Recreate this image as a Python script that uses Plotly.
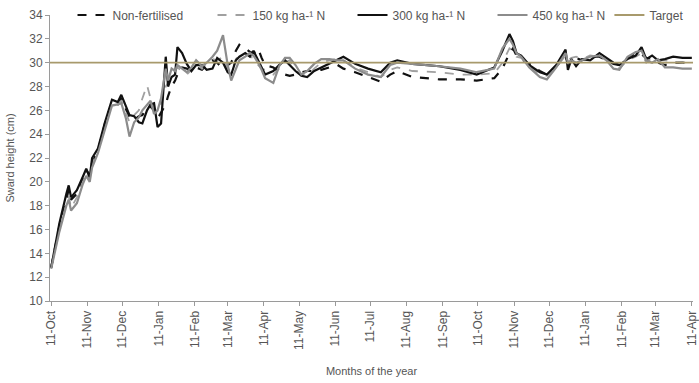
import plotly.graph_objects as go

dates = [
    "2010-10-11", "2010-10-18", "2010-10-24", "2010-10-26", "2010-10-28", "2010-11-02",
    "2010-11-07", "2010-11-10", "2010-11-13", "2010-11-15", "2010-11-20", "2010-11-26",
    "2010-12-02", "2010-12-07", "2010-12-10", "2010-12-14", "2010-12-17", "2010-12-21",
    "2010-12-25", "2010-12-28", "2011-01-01", "2011-01-04", "2011-01-07", "2011-01-10",
    "2011-01-13", "2011-01-17", "2011-01-19", "2011-01-22", "2011-01-25", "2011-01-27",
    "2011-01-31", "2011-02-04", "2011-02-08", "2011-02-12", "2011-02-17", "2011-02-21",
    "2011-02-26", "2011-03-02", "2011-03-07", "2011-03-11", "2011-03-14", "2011-03-18",
    "2011-03-21", "2011-03-26", "2011-03-30", "2011-04-02", "2011-04-06", "2011-04-09",
    "2011-04-12", "2011-04-19", "2011-04-24", "2011-04-29", "2011-05-03", "2011-05-08",
    "2011-05-13", "2011-05-18", "2011-05-24", "2011-05-30", "2011-06-06", "2011-06-13",
    "2011-06-18", "2011-06-28", "2011-07-09", "2011-07-20", "2011-07-28", "2011-08-03",
    "2011-08-16", "2011-09-08", "2011-09-26", "2011-10-10", "2011-10-25", "2011-11-01",
    "2011-11-07", "2011-11-10", "2011-11-13", "2011-11-17", "2011-11-24", "2011-12-03",
    "2011-12-09", "2011-12-17", "2011-12-25", "2011-12-27", "2011-12-30", "2012-01-03",
    "2012-01-08", "2012-01-15", "2012-01-23", "2012-01-29", "2012-02-04", "2012-02-09",
    "2012-02-16", "2012-02-23", "2012-02-28", "2012-03-03", "2012-03-08", "2012-03-13",
    "2012-03-19", "2012-03-26", "2012-04-03", "2012-04-11",
]

non_fert = [
    12.8, 16.3, 18.5, 19.4, 18.5, 19.0, 20.3, 21.0, 20.5, 21.6, 22.6, 24.9,
    26.7, 26.5, 27.0, 26.0, 25.4, 25.2, 25.5, 25.6, 26.2, 26.3, 26.0, 25.3,
    25.8, 26.5, 27.2, 28.0, 28.5, 29.0, 29.6, 29.5, 29.3, 29.6, 29.4, 29.8,
    30.2, 30.0, 29.5, 29.8, 30.0, 31.0, 31.5, 31.2, 30.9, 30.8, 31.2, 30.4,
    29.8, 29.6, 29.2, 29.0, 28.9, 29.0, 29.2, 29.3, 29.3, 29.4, 29.6, 29.8,
    29.5, 29.2, 28.8, 28.4, 29.0, 29.3, 28.8, 28.6, 28.6, 28.5, 28.7, 29.5,
    30.8, 31.2, 30.6, 30.3, 29.9, 29.3, 29.0, 29.7, 30.5, 30.0, 30.0, 30.4,
    30.2, 30.5, 30.5, 30.2, 29.9, 29.8, 30.4, 30.8, 30.7, 30.4, 30.3, 30.0,
    29.8, 30.0, 30.0, 29.9,
]

n150 = [
    12.9, 16.0, 18.2, 18.8, 17.8, 18.7, 20.0, 20.8, 20.2, 21.5, 22.5, 24.7,
    26.6, 26.6, 26.8, 25.8, 25.0, 25.6, 26.0, 27.0, 28.1, 27.0, 26.2, 25.8,
    26.6, 28.0, 28.3, 29.0, 29.3, 29.6, 29.3, 29.0, 29.4, 29.9, 29.5, 30.0,
    30.3, 30.2, 30.5, 29.5, 29.2, 30.3, 30.6, 30.8, 30.5, 30.4, 29.8, 29.5,
    29.4, 29.0, 29.5, 30.0, 30.2, 29.3, 29.0, 28.9, 29.5, 30.0, 30.2, 30.3,
    30.2, 29.6, 29.2, 28.8, 29.4, 29.6, 29.3, 29.2, 29.0, 29.0, 29.1, 30.0,
    31.2, 31.0, 30.5, 30.4, 29.8, 29.0, 28.9, 29.6, 30.6, 30.2, 30.4, 30.5,
    30.3, 30.6, 30.5, 30.3, 29.7, 29.5, 30.2, 30.5, 30.8, 30.0, 30.4, 30.2,
    30.2, 30.1, 30.0, 30.0,
]

n300 = [
    12.8, 16.5, 19.0, 19.7, 18.7, 19.3, 20.4, 21.1, 20.4, 22.0, 22.8, 25.0,
    26.9, 26.7, 27.3, 26.3, 25.6, 25.5, 25.0, 24.9, 26.0, 26.5, 26.6, 24.6,
    24.9, 30.5, 28.0, 28.8, 29.0, 31.3, 30.8, 29.9, 29.3, 29.8, 29.8, 29.4,
    29.5, 30.4, 30.0, 29.2, 29.0, 30.2, 30.5, 30.8, 30.5, 31.0, 30.2, 29.7,
    29.0, 29.3, 29.8, 30.2, 29.8, 29.3, 28.9, 28.8, 29.3, 29.6, 29.9, 30.3,
    30.5, 29.9, 29.5, 29.2, 30.0, 30.2, 29.9, 29.7, 29.4, 29.0, 29.6, 31.0,
    32.4, 31.8, 30.8, 30.6, 29.8, 29.2, 29.0, 29.8, 31.1, 29.4, 30.3, 29.7,
    30.3, 30.2, 30.8, 30.4, 30.0, 29.8, 30.3, 30.6, 31.3, 30.3, 30.6, 30.2,
    30.3, 30.5, 30.4, 30.4,
]

n450 = [
    12.7, 15.8, 18.0, 18.5, 17.6, 18.2, 19.8, 20.5, 20.0, 21.2, 22.4, 24.5,
    26.4, 26.5, 26.6, 25.3, 23.8, 25.0, 25.4, 26.0, 26.5, 26.8, 25.7, 26.0,
    27.0, 29.5, 28.5, 29.5, 29.3, 29.8, 29.5, 29.2, 29.6, 30.2, 29.7, 30.0,
    30.5, 31.0, 32.3, 29.8, 28.5, 29.5, 30.2, 30.5, 30.8, 30.6, 30.0, 29.4,
    28.7, 28.3, 29.7, 30.4, 30.4, 29.8, 29.0, 29.3, 29.9, 30.3, 30.3, 30.2,
    30.2, 29.5, 29.0, 28.8, 29.8, 30.0, 29.9, 29.7, 29.5, 29.2, 29.5, 31.2,
    32.0, 31.5, 30.8, 30.5, 29.6, 28.8, 28.6, 29.6, 30.8, 30.0, 30.2, 30.0,
    30.2, 30.5, 30.6, 30.2, 29.5, 29.4, 30.5, 30.9, 31.0, 30.2, 30.0, 30.3,
    29.6, 29.6, 29.5, 29.5,
]

target_value = 30
target_dates = ["2010-10-10", "2012-04-12"]

series_names = ["Non-fertilised", "150 kg ha-¹ N", "300 kg ha-¹ N", "450 kg ha-¹ N", "Target"]

fig = go.Figure()
fig.add_trace(go.Scatter(x=dates, y=non_fert, mode="lines", name=series_names[0],
                         line=dict(color="#111111", width=2.2, dash="dash")))
fig.add_trace(go.Scatter(x=dates, y=n150, mode="lines", name=series_names[1],
                         line=dict(color="#a0a0a0", width=1.8, dash="dash")))
fig.add_trace(go.Scatter(x=dates, y=n300, mode="lines", name=series_names[2],
                         line=dict(color="#111111", width=2.2)))
fig.add_trace(go.Scatter(x=dates, y=n450, mode="lines", name=series_names[3],
                         line=dict(color="#8c8c8c", width=2.2)))
fig.add_trace(go.Scatter(x=target_dates, y=[target_value] * 2, mode="lines", name=series_names[4],
                         line=dict(color="#a89a6c", width=1.8), legend="legend2"))

axis_col = "#9a9a9a"
txt_col = "#555555"
leg_common = dict(orientation="h", yref="container", y=1 - 15 / 383, xanchor="left", yanchor="middle",
                  bgcolor="rgba(0,0,0,0)", font=dict(size=12, color=txt_col), itemwidth=30)
fig.update_layout(
    width=699, height=383,
    margin=dict(l=50, r=6, t=15, b=82, autoexpand=False),
    paper_bgcolor="white", plot_bgcolor="white",
    font=dict(family="Liberation Sans, Arial, sans-serif", color=txt_col, size=11),
    showlegend=True,
    legend=dict(x=0.035, entrywidth=95, entrywidthmode="pixels", **leg_common),
    legend2=dict(x=0.87, **leg_common),
    xaxis=dict(type="date", range=["2010-10-10", "2012-04-12"],
               tick0="2010-10-11", dtick="M1", tickformat="%d-%b", tickangle=-90,
               showgrid=False, zeroline=False, showline=True, linecolor=axis_col, linewidth=1,
               ticks="outside", ticklen=4, tickcolor=axis_col,
               tickfont=dict(size=12, color=txt_col),
               title=dict(text="Months of the year", font=dict(size=11, color=txt_col), standoff=18)),
    yaxis=dict(range=[10, 34], dtick=2, tick0=10,
               showgrid=False, zeroline=False, showline=True, linecolor=axis_col, linewidth=1,
               ticks="outside", ticklen=4, tickcolor=axis_col,
               tickfont=dict(size=12, color=txt_col),
               title=dict(text="Sward height (cm)", font=dict(size=11, color=txt_col), standoff=12)),
)

fig.write_html("out.html")
